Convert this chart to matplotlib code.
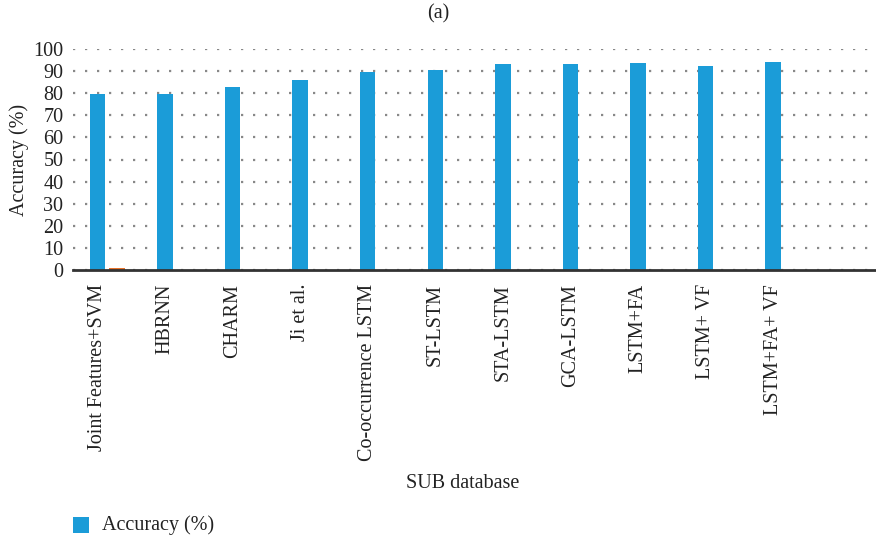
import matplotlib
matplotlib.use("Agg")
import matplotlib.pyplot as plt
import numpy as np
from matplotlib.patches import Rectangle

categories = ["Joint Features+SVM", "HBRNN", "CHARM", "Ji et al.", "Co-occurrence LSTM",
              "ST-LSTM", "STA-LSTM", "GCA-LSTM", "LSTM+FA", "LSTM+ VF", "LSTM+FA+ VF"]
accuracy = [79.5, 79.5, 83.0, 86.0, 89.5, 90.3, 93.0, 93.0, 93.6, 92.3, 94.0]
second_series = [1.0, 0, 0, 0, 0, 0, 0, 0, 0, 0, 0]
yticks = list(range(0, 101, 10))

plt.rcParams['font.family'] = ['Liberation Serif', 'DejaVu Serif']

fig = plt.figure(figsize=(8.76, 5.41), dpi=100)
ax = fig.add_axes([73/876, 1 - 270/541, (876 - 73)/876, (270 - 49)/541])

x = np.arange(len(categories))
blue = '#1b9cd8'
orange = '#e8732a'
ax.bar(x, accuracy, width=0.23, color=blue, zorder=3, label='Accuracy (%)')
ax.bar(x + 0.29, second_series, width=0.23, color=orange, zorder=3)

fs = 14.5
ax.set_xlim(-0.36, 11.52)
ax.set_ylim(0, 100)
ax.set_yticks(yticks)
ax.set_yticklabels([str(v) for v in yticks], fontsize=fs, color='#222222')
ax.set_xticks(x)
ax.set_xticklabels(categories, rotation=90, fontsize=fs, color='#222222', va='top')
ax.tick_params(axis='x', length=0, pad=10)
ax.tick_params(axis='y', length=0, pad=7)

for s in ['top', 'right', 'left']:
    ax.spines[s].set_visible(False)
ax.spines['bottom'].set_linewidth(2)
ax.spines['bottom'].set_color('#333333')
ax.spines['bottom'].set_zorder(4)

ax.yaxis.grid(True, linestyle=(0, (1.0, 4.4)), linewidth=1.6, color='#888888', zorder=1)
ax.set_axisbelow(True)

fig.text(19/876, 1 - 160/541, 'Accuracy (%)', rotation=90, ha='center', va='center',
         fontsize=fs, color='#222222')
fig.text(438/876, 1 - 14/541, '(a)', ha='center', va='center', fontsize=fs, color='#222222')
fig.text(463/876, 1 - 484/541, 'SUB database', ha='center', va='center', fontsize=fs, color='#222222')

# legend
fig.patches.append(Rectangle((73/876, 1 - 533/541), 16/876, 16/541, transform=fig.transFigure,
                             facecolor=blue, edgecolor='none'))
fig.text(102/876, 1 - 525/541, 'Accuracy (%)', ha='left', va='center', fontsize=fs, color='#222222')

fig.savefig('out.png', dpi=100)
